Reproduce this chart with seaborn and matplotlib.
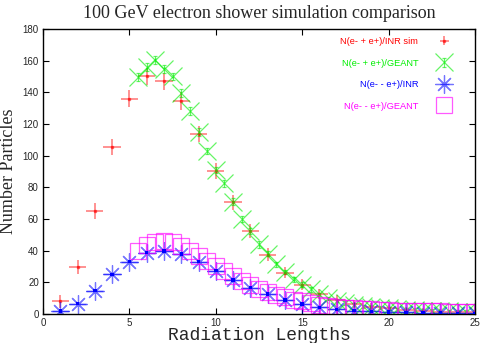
import matplotlib
matplotlib.use("Agg")
import matplotlib.pyplot as plt
import seaborn as sns
import pandas as pd

# INR simulation, integer radiation lengths
x_inr = [1, 2, 3, 4, 5, 6, 7, 8, 9, 10, 11, 12, 13, 14, 15, 16, 17, 18, 19, 20,
         21, 22, 23, 24, 25]
inr_sum = [8, 29.5, 65, 105.5, 136, 150, 147, 134.5, 113.5, 90.5, 70.5, 52.5, 37.5,
           26, 18.5, 12.5, 9, 6.5, 4.5, 3.5, 2.5, 2, 1.5, 1.2, 1]
inr_sum_err = [4, 4.5, 5, 5, 5.5, 5.5, 5.5, 5.5, 5, 5, 4.5, 4.5, 4, 3.5, 3.5, 3, 3,
               2.5, 2.5, 2, 2, 1.5, 1.5, 1.5, 1.5]
inr_diff = [2, 6.5, 14.7, 25, 33, 38.7, 39.8, 37.9, 33, 27.3, 21.6, 16.6, 12.6, 8.8,
            6.3, 4.2, 3, 2.2, 1.6, 1.2, 1, 0.8, 0.6, 0.5, 0.4]

# GEANT, half radiation length steps
x_geant = [5.5, 6, 6.5, 7, 7.5, 8, 8.5, 9, 9.5, 10, 10.5, 11, 11.5, 12, 12.5, 13,
           13.5, 14, 14.5, 15, 15.5, 16, 16.5, 17, 17.5, 18, 18.5, 19, 19.5, 20,
           20.5, 21, 21.5, 22, 22.5, 23, 23.5, 24, 24.5, 25]
geant_sum = [149.5, 156, 160.5, 155, 150, 139.5, 128, 115, 103, 91, 82.5, 71, 60,
             52.5, 44, 38, 31.5, 26.5, 22, 18.5, 15.5, 12.5, 10, 8.5, 7, 6, 5, 4.5,
             4, 3.5, 3, 2.7, 2.5, 2.2, 2, 1.8, 1.6, 1.5, 1.4, 1.3]
geant_sum_err = [2.5, 2.5, 2.5, 2.5, 2.5, 2.5, 2.5, 2.5, 2, 2, 2, 2, 2, 2, 2, 1.5,
                 1.5, 1.5, 1.5, 1.5, 1.5, 1, 1, 1, 1, 1, 1, 1, 1, 1, 1, 1, 1, 1, 1,
                 1, 1, 1, 1, 1]
geant_diff = [40, 43.5, 45.5, 46, 45.5, 43, 40, 36.5, 33.5, 30.5, 27, 24, 21, 18.5,
              16, 14, 12, 10.5, 9, 8, 7, 6, 5.2, 4.6, 4, 3.6, 3.2, 2.9, 2.6, 2.4,
              2.2, 2, 1.9, 1.8, 1.7, 1.6, 1.5, 1.4, 1.3, 1.2]

labels = ["N(e- + e+)/INR sim", "N(e- + e+)/GEANT", "N(e- - e+)/INR",
          "N(e- - e+)/GEANT"]
colors = ["#ff0000", "#00ee00", "#0000ff", "#ff00ff"]

sns.set_theme(style="ticks")
plt.rcParams["font.family"] = ["Liberation Sans", "DejaVu Sans"]

fig = plt.figure(figsize=(4.91, 3.43), dpi=100)
ax = fig.add_axes([43 / 491, 29 / 343, 432 / 491, 285 / 343])

ax.errorbar(x_inr, inr_sum, xerr=0.5, yerr=inr_sum_err, fmt='', linestyle='none',
            marker='s', ms=1.8, color=colors[0], elinewidth=1.2, capsize=0,
            alpha=0.5, label=labels[0])
ax.errorbar(x_geant, geant_sum, yerr=geant_sum_err, fmt='', linestyle='none',
            marker='x', ms=12.5, mew=0.9, color=colors[1], elinewidth=0.8,
            capsize=1.5, alpha=0.6, label=labels[1])
ax.errorbar(x_inr, inr_diff, xerr=0.5, fmt='', linestyle='none', marker=(8, 2, 0),
            ms=13, mew=0.9, color=colors[2], elinewidth=1.0, alpha=0.55,
            label=labels[2])
ax.errorbar(x_geant, geant_diff, fmt='', linestyle='none', marker='s', ms=11.5,
            mew=0.9, mfc='none', color=colors[3], alpha=0.65, label=labels[3])

# small centre dots
dots = pd.DataFrame({"x": x_inr, "y": inr_diff})
sns.scatterplot(data=dots, x="x", y="y", marker='s', s=6, color=colors[2],
                edgecolor='none', ax=ax, legend=False, zorder=5)

ax.set_xlim(0, 25)
ax.set_ylim(0, 180)
ax.set_xticks([0, 5, 10, 15, 20, 25])
ax.set_yticks(range(0, 181, 20))
ax.tick_params(direction='in', top=True, right=True, labelsize=7, length=4,
               width=0.8, color='black', pad=3)
for s in ax.spines.values():
    s.set_color('black')
    s.set_linewidth(1)

ax.set_title("100 GeV electron shower simulation comparison",
             family="Liberation Serif", fontsize=13, pad=8)
ax.set_ylabel("Number Particles", family="Liberation Serif", fontsize=13)
ax.yaxis.set_label_coords(-0.06, 0.5)
ax.set_xlabel("Radiation Lengths", family="Liberation Mono", fontsize=13)
ax.xaxis.set_label_coords(0.5, -0.045)

leg = ax.legend(loc='upper right', bbox_to_anchor=(0.985, 0.985), frameon=False,
                markerfirst=False, fontsize=6.7, handlelength=4.4,
                handletextpad=0.6, labelspacing=1.35, borderaxespad=0)
for t, c in zip(leg.get_texts(), colors):
    t.set_color(c)

fig.savefig("out.png", dpi=100)
